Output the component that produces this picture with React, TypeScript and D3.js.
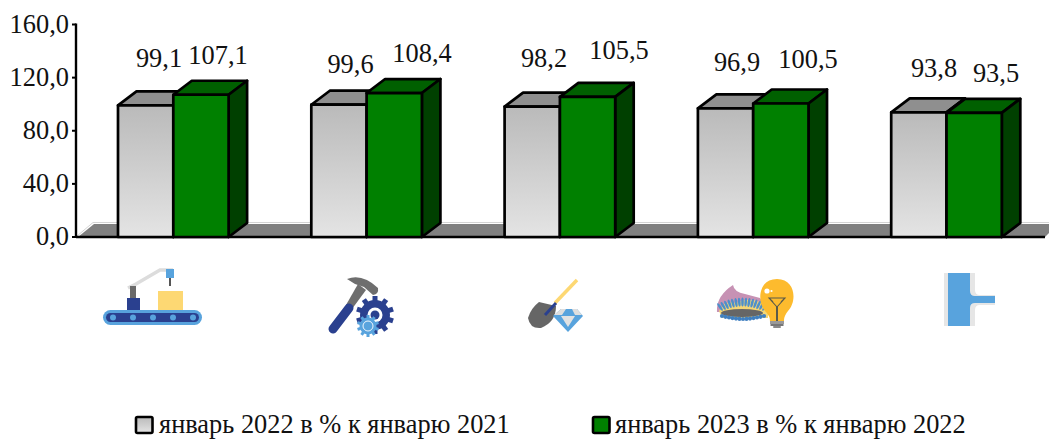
import React from "react";
import * as d3 from "d3";

const categories = ["Обрабатывающие производства", "Машиностроение", "Добыча полезных ископаемых", "Электроэнергия", "Водоснабжение"];
const series2022 = [99.1, 99.6, 98.2, 96.9, 93.8];
const series2023 = [107.1, 108.4, 105.5, 100.5, 93.5];
const yTicks = [0, 40, 80, 120, 160];
const legendLabels = ["январь 2022 в % к январю 2021", "январь 2023 в % к январю 2022"];

// manually placed data labels in the original: [centre x, baseline y]
const labelLayout2022 = [[159, 67], [350.5, 73], [544, 67], [737, 71], [934, 77]];
const labelLayout2023 = [[218, 64], [422, 62], [619, 59], [808, 68], [996, 82]];

const W = 1049, H = 439;
const FONT = '"Liberation Serif", "Times New Roman", serif';
const FS = 26.4;
const y = d3.scaleLinear().domain([0, 160]).range([237, 24.5]);
const band = d3.scaleBand<number>().domain(d3.range(categories.length)).range([118, 118 + 5 * 193.3]);
const DX = 18.5, DY = 14;
const BW = 55.3;

function Bar({ x, v, front, top, side }: { x: number; v: number; front: string; top: string; side: string }) {
  const yt = y(v), yb = y(0);
  return (
    <g stroke="#000" strokeWidth={2.7} strokeLinejoin="round">
      <path d={`M${x},${yt}l${DX},${-DY}h${BW}l${-DX},${DY}z`} fill={top} />
      <path d={`M${x + BW},${yt}l${DX},${-DY}V${yb - DY}l${-DX},${DY}z`} fill={side} />
      <rect x={x} y={yt} width={BW} height={yb - yt} fill={front} />
    </g>
  );
}

function Conveyor() {
  return (
    <g>
      <path d="M128,288L136,284L160,270H173" fill="none" stroke="#dcdcdc" strokeWidth={3.5} />
      <rect x={130} y={286} width={6} height={12} fill="#6b6b6b" />
      <rect x={127} y={298} width={13} height={13} fill="#2b418f" />
      <rect x={158} y={291} width={25} height={20} fill="#fdd873" />
      <rect x={166} y={269} width={8} height={9} fill="#58a3dd" />
      <rect x={169} y={278} width={2} height={8} fill="#555" />
      <rect x={103} y={310} width={99} height={15} rx={7.5} fill="#58a3dd" />
      <rect x={106} y={313} width={93} height={9} rx={4.5} fill="#2b418f" />
      {[0, 1, 2, 3, 4].map(i => <circle key={i} cx={113 + i * 20} cy={317.5} r={3} fill="#58a3dd" />)}
    </g>
  );
}

function Hammer() {
  const teeth = d3.range(10).map(i => i * 36);
  const smallTeeth = d3.range(10).map(i => i * 36);
  return (
    <g>
      <path d="M347,279Q362,273 378,288Q379,294 373,295L364,287L355,284Z" fill="#6e6e6e" />
      <path d="M358,284L366,290L352,309L346,305Z" fill="#6e6e6e" />
      <path d="M333,329L349,308" stroke="#2b418f" strokeWidth={9} strokeLinecap="round" />
      {teeth.map(a => <rect key={a} x={372.5} y={296} width={5} height={6} fill="#2b418f" transform={`rotate(${a} 375 315)`} />)}
      <circle cx={375} cy={315} r={15} fill="#2b418f" />
      <circle cx={375} cy={315} r={7.5} fill="#fff" />
      <circle cx={375} cy={315} r={4.5} fill="#2b418f" />
      {smallTeeth.map(a => <rect key={a} x={366.5} y={315} width={3} height={3} fill="#58a3dd" transform={`rotate(${a} 368 326)`} />)}
      <circle cx={368} cy={326} r={8.5} fill="#58a3dd" />
      <circle cx={368} cy={326} r={5} fill="none" stroke="#fff" strokeWidth={0.9} />
    </g>
  );
}

function Shovel() {
  return (
    <g>
      <path d="M555,303L577,280" stroke="#fdd873" strokeWidth={3.5} />
      <path d="M539,302L556,306Q556,322 541,328Q530,329 528,318Q531,308 539,302Z" fill="#666" />
      <path d="M545,315L556,303" stroke="#2b418f" strokeWidth={3} />
      <path d="M553,316L561,309H577L583,316L568,332Z" fill="#58a3dd" />
      <path d="M561,316H575L568,327Z" fill="#e2e2e2" />
      <path d="M561,309H566L562,315H554Z M572,309H577L582,315H575Z" fill="#dedede" />
    </g>
  );
}

function Bulb() {
  const petals = d3.range(15);
  const dots = d3.range(13);
  return (
    <g>
      <path d="M717,312Q716,296 733,285Q734,292 745,294L760,298L770,312Z" fill="#c792b4" />
      <path d="M719,311Q724,300 736,303Q750,295 768,306V318H722Z" fill="#f4d674" />
      {petals.map(i => {
        const t = i / 14;
        const px = 720 + t * 45, py = 307 - Math.sin(t * Math.PI) * 5;
        return <ellipse key={i} cx={px} cy={py} rx={1.3} ry={4.5} fill="#4d8fcb" transform={`rotate(${(t - 0.5) * 70} ${px} ${py})`} />;
      })}
      <ellipse cx={742} cy={313} rx={21} ry={4} fill="#666" />
      {dots.map(i => {
        const t = i / 12;
        return <circle key={i} cx={722 + t * 42} cy={316 + Math.sin(t * Math.PI) * 3} r={2.1} fill="#3f7fc0" />;
      })}
      <path d="M765,311C757,302 758,279 777,279C796,279 797,302 788,311C784,316 784,319 784,322H770C770,319 770,316 765,311Z" fill="#fdbb2d" />
      <path d="M769,298H785L777,307ZM769,298L773,302M785,298L781,302" fill="none" stroke="#5a5a4a" strokeWidth={1.1} />
      <path d="M777,307V322" stroke="#5a5a4a" strokeWidth={2} />
      <rect x={770} y={321} width={14} height={3} fill="#999" />
      <rect x={770.5} y={324} width={13} height={2} fill="#777" />
      <rect x={773} y={326} width={8} height={2} rx={1} fill="#888" />
      <circle cx={767} cy={291} r={2.6} fill="#fff" />
      <circle cx={771.5} cy={291} r={1.1} fill="#fff" />
    </g>
  );
}

function Pipe() {
  return (
    <g>
      <path d="M944,273H975V290Q975,295 980,295H995V305H980Q975,305 975,310V326H944Z" fill="#e6e6e6" />
      <path d="M948,273H970V291Q970,296 975,296H995V303H975Q970,303 970,308V326H948Z" fill="#58a3dd" />
    </g>
  );
}

export default function App() {
  const icons = [Conveyor, Hammer, Shovel, Bulb, Pipe];
  const yb = y(0);
  return (
    <svg width={W} height={H} viewBox={`0 0 ${W} ${H}`} style={{ position: "absolute", left: 0, top: 0, background: "#fff" }} fontFamily={FONT}>
      <defs>
        <linearGradient id="gray" x1="0" x2="0" y1="0" y2="1">
          <stop offset="0" stopColor="#bababa" />
          <stop offset="1" stopColor="#e4e4e4" />
        </linearGradient>
        <filter id="soft"><feGaussianBlur stdDeviation="0.45" /></filter>
      </defs>

      {/* floor */}
      <path d={`M78,${yb}L94,${yb - 13}H1049V${yb - 4}L1045,${yb}Z`} fill="#808080" />
      <path d={`M77,${yb - 1}L93,${yb - 14.5}H1049`} fill="none" stroke="#d4d4d4" strokeWidth={1} />

      {/* axes */}
      <line x1={76} x2={1045} y1={yb} y2={yb} stroke="#000" strokeWidth={2.6} />
      <line x1={76} x2={76} y1={y(160) - 1} y2={yb + 1} stroke="#000" strokeWidth={2.4} />
      {yTicks.map(t => (
        <g key={t}>
          <line x1={72} x2={76} y1={y(t)} y2={y(t)} stroke="#000" strokeWidth={2} />
          <text x={69} y={y(t) + 8} textAnchor="end" fontSize={FS} fill="#111">{d3.format(".1f")(t).replace(".", ",")}</text>
        </g>
      ))}

      {/* bars */}
      {categories.map((c, i) => {
        const x0 = band(i) as number;
        return (
          <g key={c}>
            <Bar x={x0} v={series2022[i]} front="url(#gray)" top="#8f8f8f" side="#8f8f8f" />
            <Bar x={x0 + BW} v={series2023[i]} front="#008000" top="#006000" side="#004000" />
            <text x={labelLayout2022[i][0]} y={labelLayout2022[i][1]} textAnchor="middle" fontSize={FS} fill="#111">{String(series2022[i]).replace(".", ",")}</text>
            <text x={labelLayout2023[i][0]} y={labelLayout2023[i][1]} textAnchor="middle" fontSize={FS} fill="#111">{String(series2023[i]).replace(".", ",")}</text>
          </g>
        );
      })}

      {/* icons */}
      <g filter="url(#soft)">
        {icons.map((Icon, i) => <Icon key={i} />)}
      </g>

      {/* legend */}
      <g>
        <rect x={136} y={417} width={16.5} height={16} rx={1.5} fill="url(#gray)" stroke="#000" strokeWidth={2.6} />
        <text x={159} y={433} fontSize={FS} fill="#111">{legendLabels[0]}</text>
        <rect x={593} y={417} width={16.5} height={16} rx={1.5} fill="#008000" stroke="#000" strokeWidth={2.6} />
        <text x={615} y={433} fontSize={FS} fill="#111">{legendLabels[1]}</text>
      </g>
    </svg>
  );
}
